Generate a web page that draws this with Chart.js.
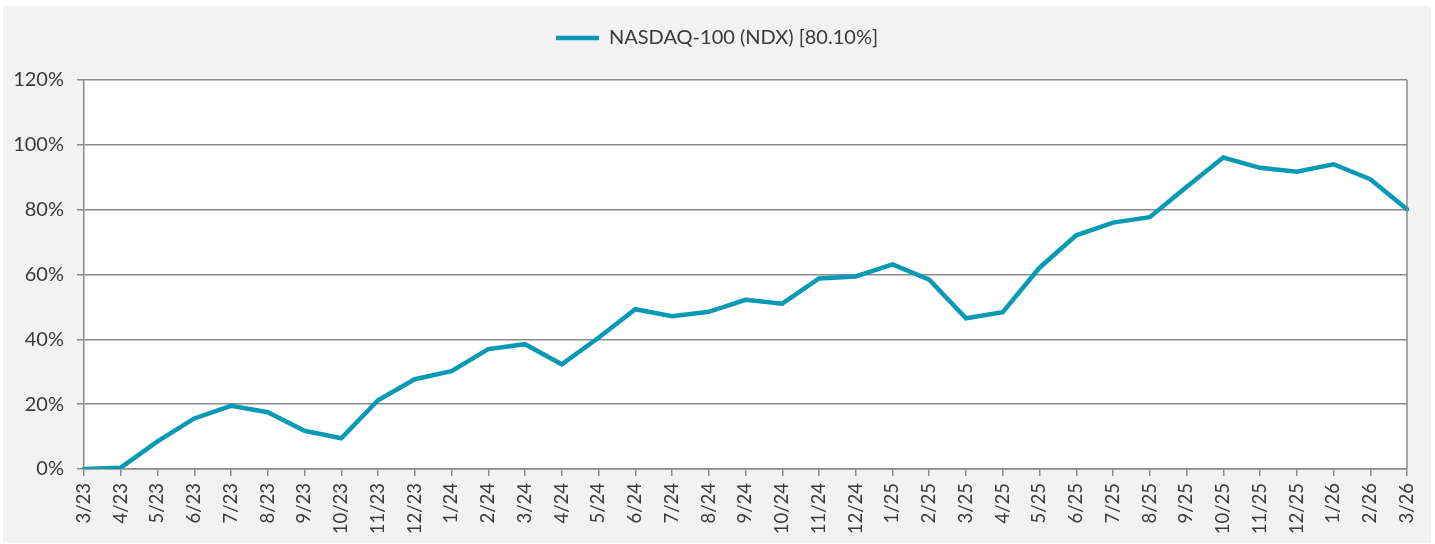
<!DOCTYPE html>
<html>
<head>
<meta charset="utf-8">
<script src="https://cdn.jsdelivr.net/npm/chart.js@4.4.1/dist/chart.umd.min.js"></script>
<style>
    body { margin: 0; background: #ffffff; }
    #wrap { position: absolute; left: 3px; top: 6px; width: 1428px; height: 537px; background: #f2f2f2; }
</style>
</head>
<body>
<div id="wrap"><canvas id="ndxChart" width="1428" height="537"></canvas></div>
<script>
// Month labels and cumulative return (%)
const months = ['3/23','4/23','5/23','6/23','7/23','8/23','9/23','10/23','11/23','12/23',
    '1/24','2/24','3/24','4/24','5/24','6/24','7/24','8/24','9/24','10/24','11/24','12/24',
    '1/25','2/25','3/25','4/25','5/25','6/25','7/25','8/25','9/25','10/25','11/25','12/25',
    '1/26','2/26','3/26'];
const ndxReturns = [0, 0.4, 8.5, 15.6, 19.5, 17.5, 11.8, 9.5, 21.2, 27.7,
    30.2, 37.0, 38.5, 32.3, 40.5, 49.3, 47.1, 48.5, 52.2, 51.0, 58.8, 59.4,
    63.1, 58.4, 46.5, 48.4, 62.1, 72.1, 76.0, 77.7, 87.0, 96.1, 92.9, 91.7,
    94.0, 89.4, 80.1];
const yTicks = [0, 20, 40, 60, 80, 100, 120];

const seriesName = 'NASDAQ-100 (NDX) [80.10%]';
const lineColor = '#0899b5';
const gridColor = '#8a8a8a';
const textColor = '#3a3a3a';

Chart.defaults.font.family = 'Lato, "Open Sans", sans-serif';
Chart.defaults.font.size = 18;
Chart.defaults.color = textColor;

// white plot area + right frame line
const plotFrame = {
    id: 'plotFrame',
    beforeDraw(chart) {
        const a = chart.chartArea, ctx = chart.ctx;
        ctx.save();
        ctx.fillStyle = '#ffffff';
        ctx.fillRect(a.left, a.top, a.right - a.left, a.bottom - a.top);
        ctx.restore();
    },
    afterDraw(chart) {
        const a = chart.chartArea, ctx = chart.ctx;
        ctx.save();
        ctx.strokeStyle = gridColor;
        ctx.lineWidth = 1.5;
        ctx.beginPath();
        ctx.moveTo(a.right, a.top);
        ctx.lineTo(a.right, a.bottom);
        ctx.stroke();
        ctx.restore();
    }
};

// give the legend a fixed band at the top
const legendBand = {
    id: 'legendBand',
    beforeInit(chart) {
        const origFit = chart.legend.fit;
        chart.legend.fit = function () {
            origFit.bind(chart.legend)();
            this.height = 74;
        };
    }
};

new Chart(document.getElementById('ndxChart'), {
    type: 'line',
    data: {
        labels: months,
        datasets: [{
            label: seriesName,
            data: ndxReturns,
            borderColor: lineColor,
            backgroundColor: lineColor,
            borderWidth: 4.5,
            borderCapStyle: 'round',
            borderJoinStyle: 'miter',
            pointRadius: 0,
            pointStyle: 'line',
            tension: 0,
            fill: false
        }]
    },
    options: {
        responsive: false,
        animation: false,
        layout: { padding: 0 },
        plugins: {
            legend: {
                position: 'top',
                labels: {
                    usePointStyle: true,
                    pointStyleWidth: 43,
                    padding: 22,
                    color: textColor,
                    font: { size: 20 }
                }
            },
            tooltip: { enabled: false }
        },
        scales: {
            x: {
                offset: false,
                grid: {
                    drawOnChartArea: false,
                    drawTicks: true,
                    tickLength: 7,
                    color: gridColor,
                    lineWidth: 1.5
                },
                border: { color: gridColor, width: 1.5 },
                ticks: {
                    autoSkip: false,
                    minRotation: 90,
                    maxRotation: 90,
                    padding: 7,
                    color: textColor,
                    font: { size: 18.5 }
                },
                afterFit(scale) {
                    scale.height = 74;
                    scale.paddingLeft = 0;
                    scale.paddingRight = 24;
                }
            },
            y: {
                min: yTicks[0],
                max: yTicks[yTicks.length - 1],
                afterBuildTicks(scale) { scale.ticks = yTicks.map(v => ({ value: v })); },
                grid: {
                    color: gridColor,
                    lineWidth: 1.5,
                    tickLength: 7
                },
                border: { color: gridColor, width: 1.5 },
                ticks: {
                    padding: 13,
                    color: textColor,
                    font: { size: 20 },
                    callback: v => v + '%'
                },
                afterFit(scale) { scale.width = 81; }
            }
        }
    },
    plugins: [plotFrame, legendBand]
});
</script>
</body>
</html>
